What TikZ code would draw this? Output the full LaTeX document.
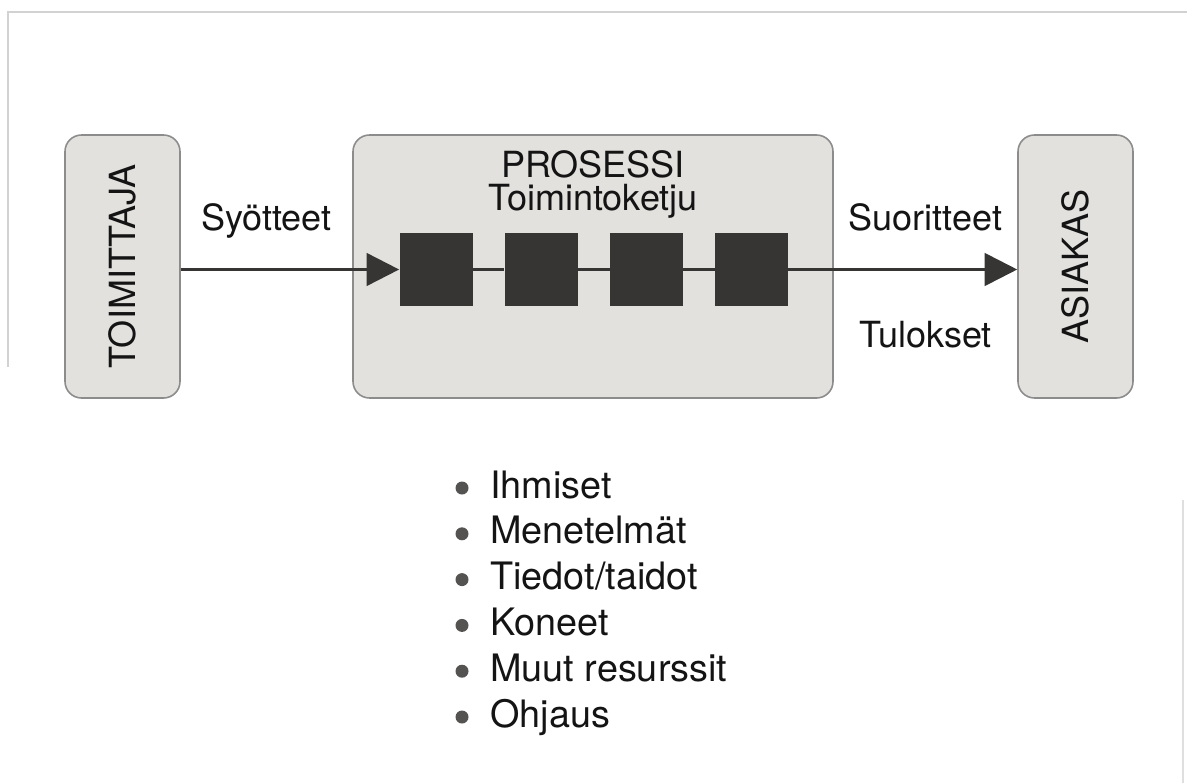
\documentclass[tikz,border=0pt]{standalone}
\usepackage{fontspec}
\setmainfont{TeX Gyre Heros}
\usetikzlibrary{arrows.meta,calc,positioning}
\definecolor{laatikko}{RGB}{227,225,222}
\definecolor{reuna}{RGB}{140,140,140}
\definecolor{tumma}{RGB}{55,53,52}
\definecolor{teksti}{RGB}{20,20,20}

\tikzset{
  kehys/.style={draw=reuna, fill=laatikko, line width=0.9pt, rounded corners=0.33cm},
  vaihe/.style={fill=tumma, minimum size=1.46cm, inner sep=0pt},
  nuoli/.style={draw=tumma, line width=1.6pt, -{Triangle[length=0.65cm,width=0.65cm]}},
  yhteys/.style={draw=tumma, line width=1.6pt},
  otsikko/.style={font=\fontsize{20.5}{24}\selectfont, text=teksti},
  lista/.style={font=\fontsize{21.5}{26}\selectfont, text=teksti, inner sep=0pt, anchor=base west},
}

\begin{document}
\begin{tikzpicture}
\useasboundingbox (0,0) rectangle (23.74,15.66);
% skannauksen reunaviivat
\draw[gray!35, line width=0.6pt] (0.16,8.32) -- (0.16,15.42) -- (23.74,15.42);
\draw[gray!25, line width=0.6pt] (23.66,0) -- (23.66,5.66);
% laatikot
\node[kehys, minimum width=2.3cm, minimum height=5.26cm] (toimittaja) at (2.45,10.33) {};
\node[kehys, minimum width=9.6cm, minimum height=5.26cm] (prosessi) at (11.86,10.33) {};
\node[kehys, minimum width=2.3cm, minimum height=5.26cm] (asiakas) at (21.51,10.33) {};
\node[otsikko, rotate=90] (toimittajateksti) at (toimittaja.center) {TOIMITTAJA};
\node[otsikko, rotate=90] (asiakasteksti) at (asiakas.center) {ASIAKAS};
% prosessin otsikko
\node[otsikko, anchor=base] (prosessinimi) at ($(prosessi.north)+(0,-0.86)$) {PROSESSI};
\node[otsikko, anchor=base] (ketju) at ($(prosessinimi.base)+(0,-0.66)$) {Toimintoketju};
% toimintoketjun vaiheet
\node[vaihe] (v1) at (8.72,10.27) {};
\node[vaihe, right=0.63cm of v1] (v2) {};
\node[vaihe, right=0.63cm of v2] (v3) {};
\node[vaihe, right=0.63cm of v3] (v4) {};
\draw[yhteys] (v1) -- (v2) (v2) -- (v3) (v3) -- (v4);
% sisaan ja ulos
\draw[nuoli] (toimittaja.east |- v1) -- (v1.west);
\draw[nuoli] (v4.east) -- (asiakas.west |- v4);
\node[otsikko, anchor=base] (syotteet) at ($(toimittaja.east)!0.5!(prosessi.west)+(0,0.73)$) {Syötteet};
\node[otsikko, anchor=base] (suoritteet) at ($(prosessi.east)!0.5!(asiakas.west)+(0,0.73)$) {Suoritteet};
\node[otsikko, anchor=base] (tulokset) at ($(prosessi.east)!0.5!(asiakas.west)+(0,-1.61)$) {Tulokset};
% resurssit
\foreach \kohta [count=\i] in {Ihmiset, Menetelmät, Tiedot/taidot, Koneet, Muut resurssit, Ohjaus} {
  \node[lista] (resurssi\i) at (9.80,{5.70-0.916*(\i-1)}) {\kohta};
  \fill[tumma!85] ($(resurssi\i.base west)+(-0.56,0.2)$) circle (0.13);
}
\end{tikzpicture}
\end{document}
